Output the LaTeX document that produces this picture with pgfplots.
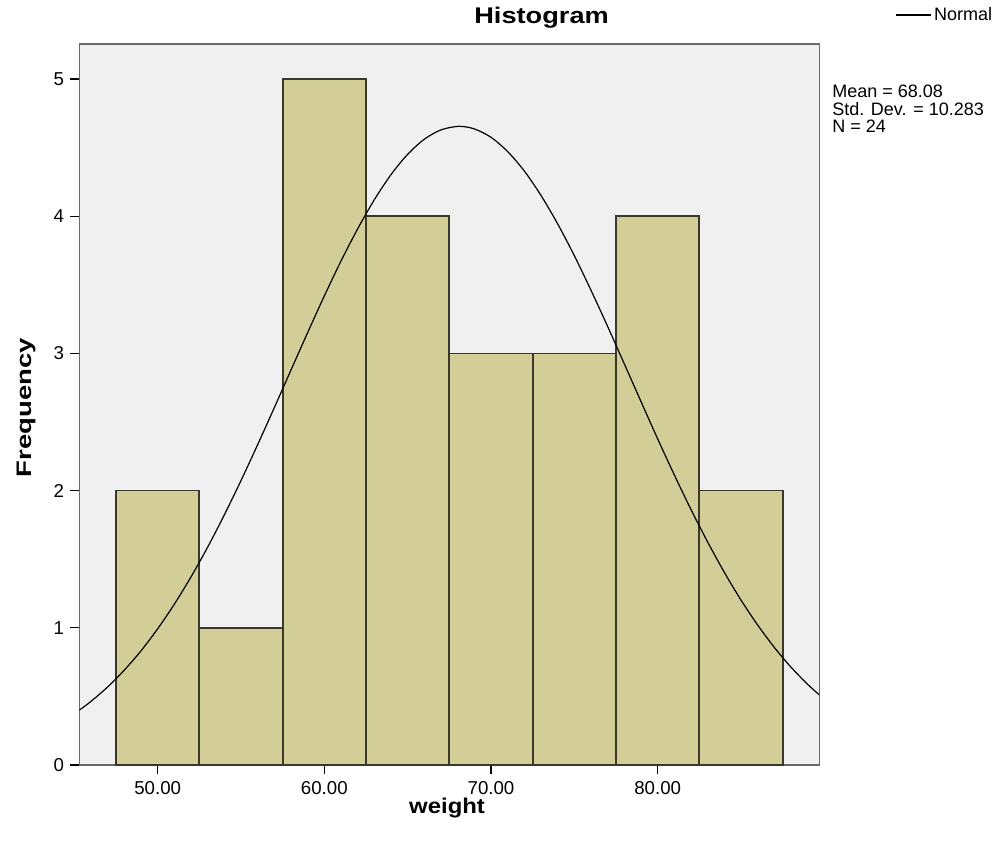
\documentclass[border=0pt]{standalone}
\usepackage{fontspec}
\setmainfont{Liberation Sans}
\usepackage{pgfplots}
\pgfplotsset{compat=1.18}
\definecolor{barfill}{HTML}{D3CE97}
\definecolor{bg}{HTML}{F0F0F0}
\definecolor{baredge}{HTML}{3A3828}
\definecolor{frame}{HTML}{6A6A6A}
\begin{document}
\begin{tikzpicture}
\useasboundingbox (-59.5pt,-64.5pt) rectangle (692pt,573.75pt);
\begin{axis}[
  at={(0pt,0pt)}, anchor=south west,
  scale only axis, width=555pt, height=540.75pt,
  xmin=45.3, xmax=89.7, ymin=0, ymax=5.255,
  axis background/.style={fill=bg},
  axis line style={frame, line width=1pt},
  xtick={50,60,70,80}, ytick={0,1,2,3,4,5},
  xticklabels={50.00,60.00,70.00,80.00},
  tick align=outside, xtick pos=bottom, ytick pos=left,
  major tick length=7pt,
  tick style={black, line width=0.8pt},
  /pgf/number format/assume math mode=true,
  ticklabel style={font=\fontsize{14}{16}\selectfont},
  xticklabel style={yshift=-2pt},
  yticklabel style={xshift=-1pt},
  legend style={at={(axis description cs:1.2374,1.0402)}, anchor=east, draw=none, fill=none, inner sep=0pt, font=\fontsize{13.5}{15}\selectfont},
  legend image code/.code={\draw[#1] (0pt,0pt) -- (26pt,0pt);},
  clip=true,
]
\addplot[ybar interval, fill=barfill, draw=baredge, line width=1.3pt, forget plot]
coordinates {(47.5,2) (52.5,1) (57.5,5) (62.5,4) (67.5,3) (72.5,3) (77.5,4) (82.5,2) (87.5,2)};
\addplot[black, line width=0.9pt, smooth, no marks] coordinates {
(45.3,0.400) (46,0.464) (47,0.569) (48,0.692) (49,0.832) (50,0.993) (51,1.172)
(52,1.371) (53,1.588) (54,1.823) (55,2.073) (56,2.335) (57,2.605) (58,2.879)
(59,3.152) (60,3.419) (61,3.673) (62,3.908) (63,4.120) (64,4.303) (65,4.451)
(66,4.561) (67,4.629) (68.08,4.655) (69,4.636) (70,4.575) (71,4.471) (72,4.329)
(73,4.151) (74,3.944) (75,3.712) (76,3.460) (77,3.196) (78,2.923) (79,2.649)
(80,2.377) (81,2.114) (82,1.862) (83,1.625) (84,1.404) (85,1.202) (86,1.020)
(87,0.857) (88,0.713) (89,0.588) (89.7,0.511)};
\addlegendentry{Normal}
\end{axis}
\node[anchor=base, xscale=1.2, font=\bfseries\fontsize{17}{19}\selectfont] at (346.7pt,556.2pt) {Histogram};
\node[anchor=center, rotate=90, xscale=1.31, font=\bfseries\fontsize{15.75}{18}\selectfont] at (-40pt,268pt) {Frequency};
\node[anchor=base, xscale=1.12, font=\bfseries\fontsize{16}{18}\selectfont] at (275.8pt,-36pt) {weight};
\node[anchor=base west, inner sep=0pt, font=\fontsize{13.5}{15}\selectfont] at (564.5pt,500.25pt) {Mean = 68.08};
\node[anchor=base west, inner sep=0pt, font=\fontsize{13.5}{15}\selectfont] at (564.5pt,487.25pt) {Std. Dev. = 10.283};
\node[anchor=base west, inner sep=0pt, font=\fontsize{13.5}{15}\selectfont] at (564.5pt,474.25pt) {N = 24};
\end{tikzpicture}
\end{document}
